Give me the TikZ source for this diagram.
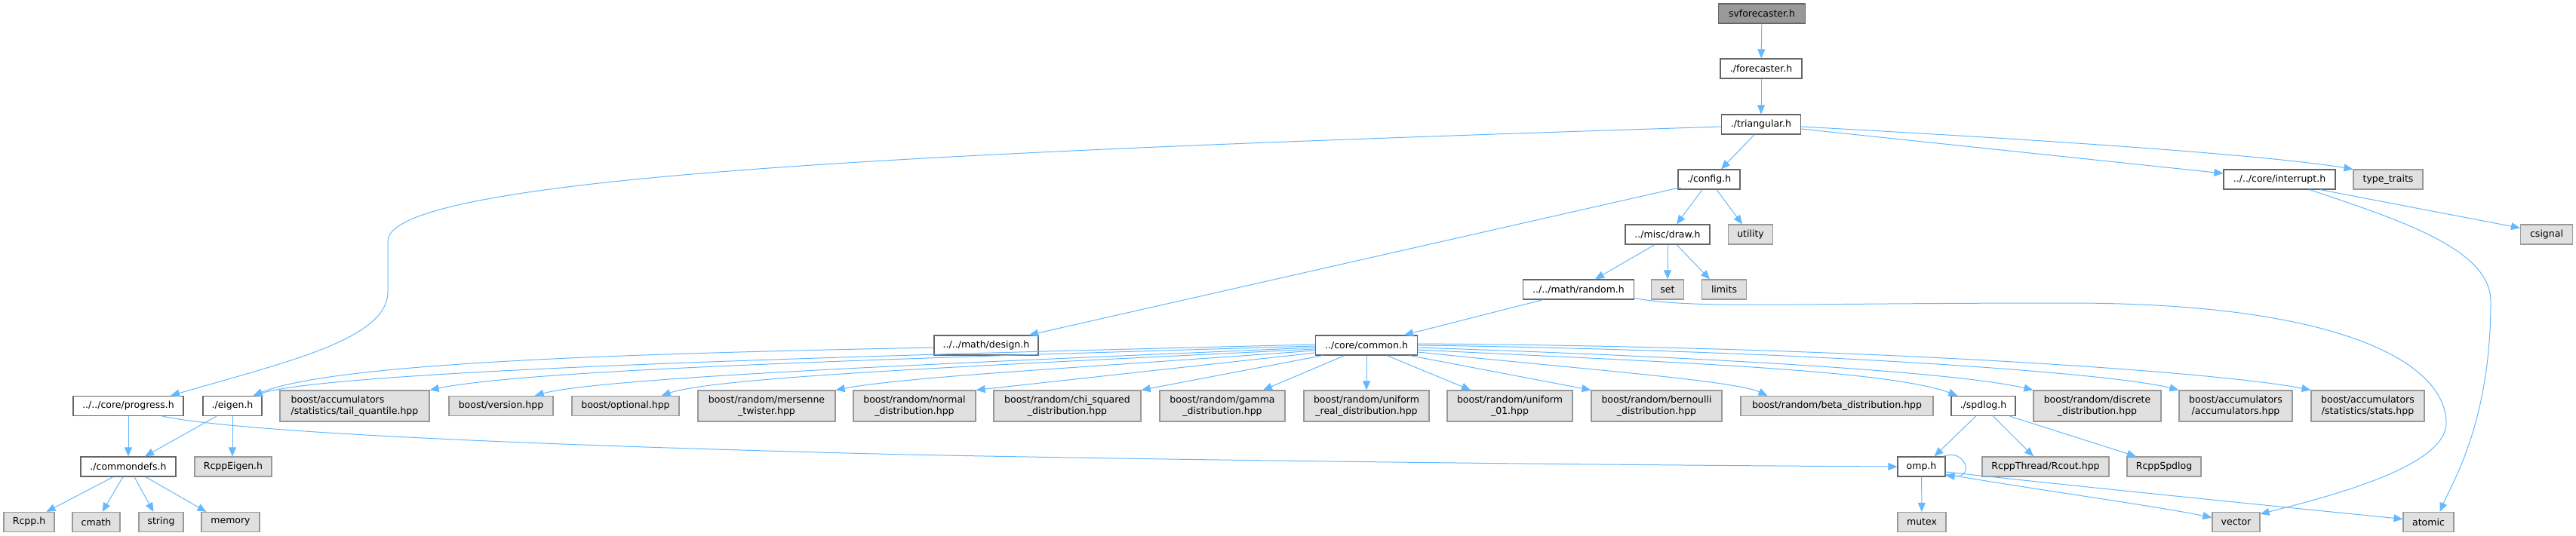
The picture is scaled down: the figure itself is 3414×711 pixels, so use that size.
\documentclass[tikz,border=0pt]{standalone}
\usepackage{fontspec}
\setmainfont{DejaVu Sans}
\usetikzlibrary{arrows.meta}
\definecolor{edgec}{HTML}{63B8FF}
\definecolor{nodeb}{HTML}{666666}
\definecolor{extb}{HTML}{999999}
\definecolor{extf}{HTML}{E0E0E0}
\definecolor{rootf}{HTML}{999999}
\begin{document}
\begin{tikzpicture}[x=1pt,y=-1pt,
  basebox/.style={line width=1.2pt, inner sep=0pt, minimum height=26pt,
    font=\fontsize{12.5}{14.5}\selectfont, align=center},
  wbox/.style={basebox, draw=nodeb, fill=white},
  gbox/.style={basebox, draw=extb, fill=extf},
  gbox2/.style={gbox, minimum height=41pt},
  rbox/.style={basebox, draw=nodeb, fill=rootf},
  dep/.style={draw=edgec, line width=1pt, -{Triangle[length=12pt,width=10pt]}}]
\useasboundingbox (0,0) rectangle (3414,711);
% row 0-2
\node[rbox, minimum width=115pt] (root) at (2335,18) {svforecaster.h};
\node[wbox, minimum width=108pt] (fore) at (2334,91) {./forecaster.h};
\node[wbox, minimum width=105pt] (tri) at (2334,165) {./triangular.h};
% row 3
\node[wbox, minimum width=82pt] (config) at (2265,238) {./config.h};
\node[wbox, minimum width=148pt] (intr) at (3021,238) {../../core/interrupt.h};
\node[gbox, minimum width=92pt] (ttraits) at (3165,238) {type\_traits};
% row 4
\node[wbox, minimum width=112pt] (draw) at (2210,311) {../misc/draw.h};
\node[gbox, minimum width=59pt] (utility) at (2320,311) {utility};
\node[gbox, minimum width=69pt] (csignal) at (3375,311) {csignal};
% row 5
\node[wbox, minimum width=147pt] (random) at (2092,384) {../../math/random.h};
\node[gbox, minimum width=43pt] (set) at (2210,384) {set};
\node[gbox, minimum width=59pt] (limits) at (2285,384) {limits};
% row 6
\node[wbox, minimum width=138pt] (design) at (1307,458) {../../math/design.h};
\node[wbox, minimum width=135pt] (common) at (1811,458) {../core/common.h};
% row 7
\node[wbox, minimum width=146pt] (progress) at (170,538.5) {../../core/progress.h};
\node[wbox, minimum width=78pt] (eigen) at (308,538.5) {./eigen.h};
\node[gbox2, minimum width=198pt, align=left] (tq) at (470,538.5) {boost/accumulators\\/statistics/tail\_quantile.hpp};
\node[gbox, minimum width=138pt] (version) at (664,538.5) {boost/version.hpp};
\node[gbox, minimum width=142pt] (optional) at (829,538.5) {boost/optional.hpp};
\node[gbox2, minimum width=182pt] (mersenne) at (1016,538.5) {boost/random/mersenne\\\_twister.hpp};
\node[gbox2, minimum width=162pt] (normal) at (1212,538.5) {boost/random/normal\\\_distribution.hpp};
\node[gbox2, minimum width=195pt] (chi) at (1414.5,538.5) {boost/random/chi\_squared\\\_distribution.hpp};
\node[gbox2, minimum width=166pt] (gamma) at (1620,538.5) {boost/random/gamma\\\_distribution.hpp};
\node[gbox2, minimum width=166pt] (ureal) at (1811,538.5) {boost/random/uniform\\\_real\_distribution.hpp};
\node[gbox2, minimum width=166pt] (u01) at (2001,538.5) {boost/random/uniform\\\_01.hpp};
\node[gbox2, minimum width=173pt] (bern) at (2195.5,538.5) {boost/random/bernoulli\\\_distribution.hpp};
\node[gbox, minimum width=255pt] (beta) at (2434.5,538.5) {boost/random/beta\_distribution.hpp};
\node[wbox, minimum width=85pt] (spdlog) at (2628.5,538.5) {./spdlog.h};
\node[gbox2, minimum width=169pt] (discrete) at (2779.5,538.5) {boost/random/discrete\\\_distribution.hpp};
\node[gbox2, minimum width=150pt] (accum) at (2963,538.5) {boost/accumulators\\/accumulators.hpp};
\node[gbox2, minimum width=150pt] (stats) at (3138,538.5) {boost/accumulators\\/statistics/stats.hpp};
% row 8
\node[wbox, minimum width=126pt] (cdefs) at (170,619) {./commondefs.h};
\node[gbox, minimum width=102pt] (rcppeigen) at (309,619) {RcppEigen.h};
\node[wbox, minimum width=63pt] (omp) at (2546.5,619) {omp.h};
\node[gbox, minimum width=168pt] (rcout) at (2711,619) {RcppThread/Rcout.hpp};
\node[gbox, minimum width=98pt] (rspd) at (2868,619) {RcppSpdlog};
% row 9
\node[gbox, minimum width=67pt] (rcpp) at (38.5,692.5) {Rcpp.h};
\node[gbox, minimum width=63pt] (cmath) at (127.5,692.5) {cmath};
\node[gbox, minimum width=59pt] (string) at (213.5,692.5) {string};
\node[gbox, minimum width=77pt] (memory) at (305.5,692.5) {memory};
\node[gbox, minimum width=64pt] (mutex) at (2547,692.5) {mutex};
\node[gbox, minimum width=63pt] (vector) at (2963.5,692.5) {vector};
\node[gbox, minimum width=67pt] (atomic) at (3218.5,692.5) {atomic};

% edges: top
\draw[dep] (root) -- (fore);
\draw[dep] (fore) -- (tri);
\draw[dep] ([xshift=-9pt]tri.south) -- ([xshift=16pt]config.north);
\draw[dep] ([yshift=-6pt]tri.east) -- ([yshift=8pt]intr.west);
\draw[dep] ([yshift=-3pt]tri.east) .. controls (2700,185) and (3000,205) .. (ttraits.north west);
\draw[dep] ([yshift=-3pt]tri.west) .. controls (1300,200) and (514,230) .. (514,320)
  -- (514,387) .. controls (514,450) and (380,480) .. ([xshift=56pt]progress.north);
% config
\draw[dep] ([xshift=4pt,yshift=3pt]config.south west) -- ([xshift=57pt]design.north);
\draw[dep] ([xshift=-9pt]config.south) -- ([xshift=12pt]draw.north);
\draw[dep] ([xshift=10pt]config.south) -- ([xshift=-11pt]utility.north);
% interrupt
\draw[dep] ([xshift=54pt]intr.south) -- ([yshift=-5pt]csignal.north west);
\draw[dep] ([xshift=40pt]intr.south) .. controls (3180,292) and (3301,330) .. (3301,400)
  .. controls (3301,560) and (3250,640) .. ([xshift=15pt]atomic.north);
% draw.h
\draw[dep] ([xshift=-17pt]draw.south) -- ([xshift=22pt]random.north);
\draw[dep] (draw) -- (set);
\draw[dep] ([xshift=12pt]draw.south) -- ([xshift=-19pt]limits.north);
% random.h
\draw[dep] ([xshift=-47pt]random.south) -- ([xshift=50pt]common.north);
\draw[dep] ([yshift=2pt]random.south east) .. controls (2250,410) and (2350,402) .. (2742,402)
  .. controls (3100,402) and (3240,480) .. (3242,560)
  .. controls (3244,620) and (3080,660) .. ([yshift=-3pt]vector.north east);
% design.h
\draw[dep] ([yshift=-3pt]design.west) .. controls (900,468) and (450,478) .. ([xshift=-12pt]eigen.north east);
% common.h left
\draw[dep] ([yshift=1pt]common.west) .. controls (1200,470) and (450,490) .. ([xshift=-12pt]eigen.north east);
\draw[dep] ([yshift=-1pt]common.west) .. controls (1200,475) and (700,490) .. (tq.north east);
\draw[dep] ([yshift=-3pt]common.west) .. controls (1300,480) and (800,500) .. ([xshift=-25pt]version.north east);
\draw[dep] ([yshift=-5pt]common.west) .. controls (1300,485) and (950,500) .. ([xshift=-24pt]optional.north east);
\draw[dep] ([yshift=-7pt]common.west) .. controls (1400,490) and (1200,500) .. (mersenne.north east);
\draw[dep] ([yshift=-10pt]common.west) -- (normal.north east);
% common.h bottom
\draw[dep] ([xshift=10pt]common.south west) -- (chi.north east);
\draw[dep] ([xshift=-29pt]common.south) -- ([xshift=54pt]gamma.north);
\draw[dep] (common) -- (ureal);
\draw[dep] ([xshift=27pt]common.south) -- ([xshift=-52pt]u01.north);
\draw[dep] ([xshift=-11pt]common.south east) -- (bern.north west);
% common.h right
\draw[dep] ([yshift=-9pt]common.east) .. controls (2100,490) and (2300,505) .. ([xshift=36pt]beta.north west);
\draw[dep] ([yshift=-6pt]common.east) .. controls (2200,480) and (2500,490) .. ([xshift=9pt]spdlog.north west);
\draw[dep] ([yshift=-3pt]common.east) .. controls (2300,475) and (2600,495) .. (discrete.north west);
\draw[dep] (common.east) .. controls (2400,465) and (2800,495) .. (accum.north west);
\draw[dep] ([yshift=2pt]common.east) .. controls (2500,460) and (2950,495) .. (stats.north west);
% progress / eigen
\draw[dep] (progress) -- (cdefs);
\draw[dep] ([xshift=45pt]progress.south) .. controls (300,570) and (600,588) .. (1200,603)
  .. controls (1700,613) and (2300,618) .. (omp.west);
\draw[dep] ([xshift=-21pt]eigen.south) -- ([xshift=22pt]cdefs.north);
\draw[dep] (eigen.south) -- ([xshift=-1pt]rcppeigen.north);
% commondefs
\draw[dep] ([xshift=-20pt]cdefs.south) -- ([xshift=23pt]rcpp.north);
\draw[dep] ([xshift=-7pt]cdefs.south) -- ([xshift=8pt]cmath.north);
\draw[dep] ([xshift=8pt]cdefs.south) -- ([xshift=-10pt]string.north);
\draw[dep] ([xshift=23pt]cdefs.south) -- ([xshift=-32pt]memory.north);
% spdlog
\draw[dep] ([xshift=-10pt]spdlog.south) -- ([xshift=17pt]omp.north);
\draw[dep] ([xshift=13pt]spdlog.south) -- ([xshift=-16pt]rcout.north);
\draw[dep] ([xshift=35pt]spdlog.south) -- ([xshift=-37pt]rspd.north);
% omp
\draw[dep] ([xshift=-3pt]omp.north east) .. controls (2604,594) and (2618,634) .. ([yshift=2pt]omp.south east);
\draw[dep] (omp) -- (mutex);
\draw[dep] ([yshift=-10pt]omp.east) .. controls (2700,650) and (2850,670) .. ([yshift=6pt]vector.west);
\draw[dep] ([yshift=-7pt]omp.east) .. controls (2800,650) and (3050,675) .. ([yshift=4pt]atomic.west);
\end{tikzpicture}
\end{document}
